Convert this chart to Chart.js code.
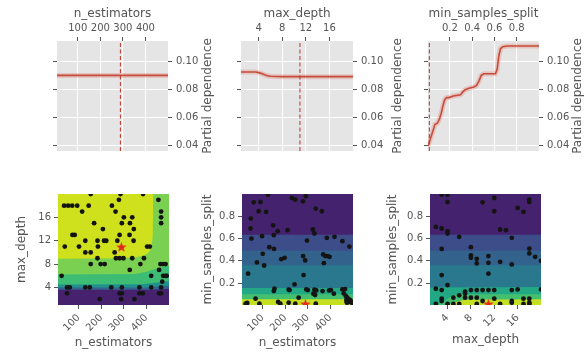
<!DOCTYPE html>
<html>
<head>
<meta charset="utf-8">
<script src="https://cdn.jsdelivr.net/npm/chart.js@4.4.1/dist/chart.umd.min.js"></script>
<style>
  html, body { margin: 0; padding: 0; background: #fff; }
  #wrap { position: relative; width: 587px; height: 353px; overflow: hidden; }
  #wrap canvas { position: absolute; left: 0; top: 0; }
</style>
</head>
<body>
<div id="wrap">
  <canvas id="pdNEst" width="587" height="353"></canvas>
  <canvas id="pdDepth" width="587" height="353"></canvas>
  <canvas id="pdSplit" width="587" height="353"></canvas>
  <canvas id="cNEstDepth" width="587" height="353"></canvas>
  <canvas id="cNEstSplit" width="587" height="353"></canvas>
  <canvas id="cDepthSplit" width="587" height="353"></canvas>
</div>
<script>
// ticks and ranges
const nEstTicks = [100, 200, 300, 400];
const depthTicks = [4, 8, 12, 16];
const splitTicks = [0.2, 0.4, 0.6, 0.8];
const pdTicks = [0.04, 0.06, 0.08, 0.10];

const nEstRange = [8, 500];
const depthRange = [1, 20];
const splitRange = [0.003, 1.0];
const pdRange = [0.0357, 0.115];

// best point found
const bestNEst = 289;
const bestDepth = 11;
const bestSplit = 0.015;

// partial dependence curves (top row)
const pdNEstX = [8, 100, 200, 300, 400, 500];
const pdNEstY = [0.0902, 0.0902, 0.0902, 0.0902, 0.0902, 0.0902];

const pdDepthX = [1, 2, 3, 3.5, 4, 4.5, 5, 5.5, 6, 7, 8, 10, 12, 14, 16, 18, 20];
const pdDepthY = [0.0927, 0.0927, 0.0927, 0.0926, 0.0922, 0.0915, 0.0906, 0.0899, 0.0896, 0.0894,
                  0.0893, 0.0893, 0.0893, 0.0893, 0.0893, 0.0893, 0.0893];

const pdSplitX = [0.003, 0.021, 0.042, 0.066, 0.087, 0.107, 0.122, 0.137, 0.152, 0.170, 0.191, 0.230,
                  0.296, 0.310, 0.334, 0.370, 0.415, 0.439, 0.460, 0.481, 0.504, 0.564, 0.609, 0.624,
                  0.639, 0.654, 0.675, 0.713, 1.0];
const pdSplitY = [0.0393, 0.0436, 0.0489, 0.0549, 0.0557, 0.0590, 0.0629, 0.0682, 0.0725, 0.0742, 0.0742, 0.0754,
                  0.0763, 0.0778, 0.0797, 0.0809, 0.0818, 0.0830, 0.0861, 0.0902, 0.0914, 0.0914, 0.0914, 0.0946,
                  0.1042, 0.1095, 0.1109, 0.1114, 0.1114];

// evaluated samples (bottom row)
const samplesNEstDepth = [
  [153,20],[285,20],[385,20],[278,19],[453,19],
  [35,18],[53,18],[71,18],[93,18],[144,18],[247,18],
  [115,17],[263,17],[465,17],
  [300,16],[337,16],[465,16],
  [168,15],[291,15],[327,15],[465,15],
  [207,14],[344,14],
  [72,13],[82,13],[281,13],[325,13],
  [129,12],[183,12],[212,12],[222,12],[271,12],[343,12],
  [38,11],[101,11],[185,11],[403,11],[415,11],
  [129,10],[153,10],[259,10],
  [265,9],[281,9],[298,9],[337,9],[183,9],[389,9],
  [153,8],[197,8],[215,8],[373,8],[462,8],[474,8],[485,8],
  [456,7],[326,7],
  [421,6],[24,6],[474,6],[485,6],[490,6],
  [48,4],[60,4],[129,4],[149,4],[244,4],[291,4],[369,4],[421,4],[465,4],[470,5],
  [48,3],[281,3],[291,3],[369,3],[384,3],[456,3],[465,3],
  [193,2],[288,2],[347,2]
];

const samplesNEstSplit = [
  [123,0.994],[229,0.964],[244,0.949],[278,0.934],[291,0.979],
  [60,0.925],[90,0.928],[82,0.845],[115,0.839],[335,0.869],[362,0.845],
  [47,0.779],[46,0.690],[146,0.719],[166,0.666],[210,0.675],[322,0.681],[329,0.645],
  [50,0.600],[97,0.621],[149,0.630],[296,0.582],[384,0.606],[418,0.615],[453,0.576],[484,0.528],
  [129,0.522],[150,0.507],[100,0.463],[182,0.415],[197,0.427],[279,0.442],[288,0.403],
  [368,0.457],[377,0.442],[387,0.442],[396,0.436],[74,0.385],[106,0.358],[371,0.379],
  [35,0.284],[281,0.272],[241,0.188],
  [152,0.149],[149,0.128],[215,0.140],[219,0.137],[293,0.143],[300,0.137],[329,0.140],[337,0.134],
  [324,0.105],[332,0.093],[365,0.128],[394,0.134],[402,0.137],[415,0.105],
  [453,0.143],[465,0.146],[459,0.107],[468,0.084],[472,0.054],[479,0.039],[471,0.039],[473,0.024],[494,0.024],
  [480,0.030],[485,0.050],[475,0.070],[490,0.040],
  [68,0.060],[259,0.069],[31,0.021],[24,0.015],[85,0.015],[168,0.030],[178,0.015],[215,0.024],[335,0.015],[244,0.015]
];

const samplesDepthSplit = [
  [3,0.994],[4,0.994],[4,0.928],[10,0.925],[12,0.964],[12,0.845],[16,0.875],[17,0.839],[18,0.949],[18,0.928],
  [2,0.704],[3,0.690],[4,0.666],[4,0.645],[6,0.615],[13,0.681],[14,0.675],
  [3,0.507],[8,0.522],[8,0.448],[8,0.427],[9,0.418],[9,0.376],[11,0.442],[11,0.382],[13,0.391],
  [15,0.606],[18,0.510],[18,0.466],[19,0.436],[20,0.400],
  [3,0.272],[4,0.182],[11,0.284],[15,0.367],
  [2,0.149],[3,0.137],[6,0.090],[7,0.105],[7,0.122],[8,0.137],[9,0.137],[10,0.137],[11,0.137],[12,0.137],
  [15,0.137],[16,0.143],[20,0.143],
  [5,0.069],[3,0.060],[3,0.039],[7,0.069],[8,0.069],[9,0.069],[10,0.039],[12,0.060],[15,0.039],
  [17,0.060],[18,0.060],[18,0.024],[15,0.024],
  [2,0.012],[4,0.012],[5,0.012],[6,0.012],[9,0.012],[13,0.012],[17,0.012],[18,0.012]
];

// contour levels (low objective = bright)
const colorsNEstDepth = ['#45216e', '#33638d', '#21918c', '#3dbc74', '#7ad151', '#cfe11c'];
const levelsNEstDepth = [
  [[8,3.6],[420,3.6],[460,3.7],[500,3.8]],
  [[8,4.0],[400,4.0],[450,4.15],[500,4.3]],
  [[8,4.5],[380,4.55],[430,4.75],[470,4.95],[500,5.1]],
  [[8,6.2],[350,6.3],[400,6.7],[440,7.2],[470,7.5],[500,7.7]],
  [[8,8.9],[280,9.0],[360,9.2],[395,9.6],[415,10.2],[424,11.2],[428,13],[430,20]]
];

const colorsSplit = ['#45226e', '#3d4d8a', '#33638d', '#2a788e', '#22a884', '#44bf70', '#c5e021'];
const levelsNEstSplit = [
  [[8,0.635],[500,0.635]],
  [[8,0.49],[500,0.49]],
  [[8,0.36],[500,0.36]],
  [[8,0.155],[500,0.155]],
  [[8,0.10],[500,0.10]],
  [[8,0.055],[500,0.055]]
];
const levelsDepthSplit = [
  [[1,0.635],[20,0.635]],
  [[1,0.49],[20,0.49]],
  [[1,0.36],[20,0.36]],
  [[1,0.16],[20,0.165]],
  [[1,0.0],[3,0.02],[4,0.06],[5,0.09],[6,0.10],[20,0.10]],
  [[4,0.0],[5,0.02],[6,0.04],[7,0.05],[20,0.055]]
];

const TXT = '#555555';
Chart.defaults.font.family = "'DejaVu Sans', sans-serif";
Chart.defaults.color = TXT;
Chart.defaults.animation = false;

function fixTicks(list) {
  return function (s) { s.ticks = list.map(v => ({ value: v })); };
}
function pairs(xs, ys) {
  return xs.map((x, i) => ({ x: x, y: ys[i] }));
}

const panelBg = {
  id: 'panelBg',
  beforeDraw(chart) {
    const a = chart.chartArea, ctx = chart.ctx;
    ctx.save();
    ctx.fillStyle = '#e5e5e5';
    ctx.fillRect(a.left, a.top, a.right - a.left, a.bottom - a.top);
    ctx.restore();
  }
};

// matplotlib style ylabel on the right, reading bottom to top
const sideLabel = {
  id: 'sideLabel',
  afterDraw(chart, args, o) {
    if (!o.text) return;
    const a = chart.chartArea, ctx = chart.ctx;
    ctx.save();
    ctx.translate(a.right + o.offset, (a.top + a.bottom) / 2);
    ctx.rotate(-Math.PI / 2);
    ctx.font = "12px 'DejaVu Sans'";
    ctx.fillStyle = TXT;
    ctx.textAlign = 'center';
    ctx.textBaseline = 'middle';
    ctx.fillText(o.text, 0, 0);
    ctx.restore();
  }
};

// filled contour regions, drawn through the chart scales
const contour = {
  id: 'contour',
  beforeDatasetsDraw(chart, args, o) {
    if (!o.regions) return;
    const a = chart.chartArea, ctx = chart.ctx;
    const x = chart.scales.x, y = chart.scales.y;
    ctx.save();
    ctx.beginPath();
    ctx.rect(a.left, a.top, a.right - a.left, a.bottom - a.top);
    ctx.clip();
    o.regions.forEach(r => {
      ctx.beginPath();
      r.poly.forEach((p, i) => {
        const px = x.getPixelForValue(p[0]), py = y.getPixelForValue(p[1]);
        if (i === 0) ctx.moveTo(px, py); else ctx.lineTo(px, py);
      });
      ctx.closePath();
      ctx.fillStyle = r.color;
      ctx.fill();
    });
    ctx.restore();
  }
};

function makeStar(size, color) {
  const c = document.createElement('canvas');
  c.width = size; c.height = size;
  const g = c.getContext('2d');
  const R = size / 2, r = R * 0.42;
  g.beginPath();
  for (let i = 0; i < 10; i++) {
    const rad = i % 2 ? r : R;
    const ang = -Math.PI / 2 + i * Math.PI / 5;
    const px = R + rad * Math.cos(ang), py = R + 0.8 + rad * Math.sin(ang);
    if (i === 0) g.moveTo(px, py); else g.lineTo(px, py);
  }
  g.closePath();
  g.fillStyle = color;
  g.fill();
  return c;
}
const starImg = makeStar(11, '#e3281c');

function rangeRect(xr, yr) {
  return [[xr[0], yr[0]], [xr[1], yr[0]], [xr[1], yr[1]], [xr[0], yr[1]]];
}
function regionsAbove(levels, colors, xr, yr) {
  const out = [{ poly: rangeRect(xr, yr), color: colors[0] }];
  levels.forEach((l, i) => out.push({ poly: l.concat([[xr[1], yr[1]], [xr[0], yr[1]]]), color: colors[i + 1] }));
  return out;
}
function regionsBelow(levels, colors, xr, yr) {
  const out = [{ poly: rangeRect(xr, yr), color: colors[0] }];
  levels.forEach((l, i) => out.push({ poly: l.concat([[xr[1], yr[0] - 1], [xr[0], yr[0] - 1]]), color: colors[i + 1] }));
  return out;
}

const tickFont = { size: 10 };
const labelFont = { size: 12 };

function topChart(id, o) {
  const curve = pairs(o.xs, o.ys);
  const top = 41, bottom = 151, xh = 34, yw = 30, lw = 12;
  new Chart(document.getElementById(id), {
    type: 'scatter',
    data: {
      datasets: [
        { data: [{ x: o.best, y: pdRange[0] }, { x: o.best, y: pdRange[1] }], showLine: true,
          borderColor: '#b8342b', borderWidth: 1, borderDash: [4, 2.5], pointRadius: 0, clip: 0, order: 0 },
        { data: curve, showLine: true, borderColor: '#c44d3d', borderWidth: 1.6, pointRadius: 0, clip: 0, order: 1 },
        { data: curve, showLine: true, borderColor: 'rgba(226,74,51,0.22)', borderWidth: 5, pointRadius: 0, clip: 0, order: 2 }
      ]
    },
    options: {
      responsive: false,
      layout: { padding: { left: o.left - lw, top: top - xh, right: 587 - o.right - yw, bottom: 353 - bottom } },
      scales: {
        x: {
          type: 'linear', position: 'top', min: o.range[0], max: o.range[1],
          afterBuildTicks: fixTicks(o.ticks),
          afterFit: s => { s.height = xh; },
          ticks: { font: tickFont, color: TXT, padding: 3, maxRotation: 0, autoSkip: false, callback: o.fmt },
          grid: { color: '#ffffff', lineWidth: 1, tickColor: TXT, tickLength: 4 },
          border: { display: false },
          title: { display: true, text: o.title, color: TXT, font: labelFont, padding: { top: 0, bottom: 0 } }
        },
        y: {
          type: 'linear', position: 'right', min: pdRange[0], max: pdRange[1],
          afterBuildTicks: fixTicks(pdTicks),
          afterFit: s => { s.width = yw; },
          ticks: { font: tickFont, color: TXT, padding: 4, callback: v => v.toFixed(2) },
          grid: { color: '#ffffff', lineWidth: 1, tickColor: TXT, tickLength: 4 },
          border: { display: false }
        },
        yLeft: {
          type: 'linear', position: 'left', min: pdRange[0], max: pdRange[1],
          afterBuildTicks: fixTicks(pdTicks),
          afterFit: s => { s.width = lw; },
          ticks: { font: tickFont, padding: 0, callback: () => '' },
          grid: { drawOnChartArea: false, tickColor: TXT, tickLength: 4 },
          border: { display: false }
        }
      },
      plugins: {
        legend: { display: false },
        tooltip: { enabled: false },
        sideLabel: { text: 'Partial dependence', offset: o.labelOffset }
      }
    },
    plugins: [panelBg, sideLabel]
  });
}

function bottomChart(id, o) {
  const top = 194, bottom = 305;
  new Chart(document.getElementById(id), {
    type: 'scatter',
    data: {
      datasets: [
        { data: [{ x: o.best[0], y: o.best[1] }], pointStyle: starImg, pointRadius: 6, clip: 0, order: 0 },
        { data: o.points.map(p => ({ x: p[0], y: p[1] })), pointRadius: 2.4, pointBorderWidth: 0,
          backgroundColor: '#141414', clip: 0, order: 1 }
      ]
    },
    options: {
      responsive: false,
      layout: { padding: { left: o.left - o.yw, top: top, right: 587 - o.right, bottom: 353 - bottom - o.xh } },
      scales: {
        x: {
          type: 'linear', position: 'bottom', min: o.xRange[0], max: o.xRange[1],
          afterBuildTicks: fixTicks(o.xTicks),
          afterFit: s => { s.height = o.xh; },
          ticks: { font: tickFont, color: TXT, padding: 3, minRotation: 45, maxRotation: 45, autoSkip: false, callback: o.xFmt },
          grid: { drawOnChartArea: false, tickColor: TXT, tickLength: 4 },
          border: { display: false },
          title: { display: true, text: o.xTitle, color: TXT, font: labelFont, padding: { top: 0, bottom: 0 } }
        },
        y: {
          type: 'linear', position: 'left', min: o.yRange[0], max: o.yRange[1],
          afterBuildTicks: fixTicks(o.yTicks),
          afterFit: s => { s.width = o.yw; },
          ticks: { font: tickFont, color: TXT, padding: 3, autoSkip: false, callback: o.yFmt },
          grid: { drawOnChartArea: false, tickColor: TXT, tickLength: 4 },
          border: { display: false },
          title: { display: true, text: o.yTitle, color: TXT, font: labelFont, padding: { top: 0, bottom: 0 } }
        }
      },
      plugins: {
        legend: { display: false },
        tooltip: { enabled: false },
        contour: { regions: o.regions }
      }
    },
    plugins: [contour]
  });
}

const fmtInt = v => String(Math.round(v));
const fmt1 = v => v.toFixed(1);

topChart('pdNEst', { left: 57, right: 168, range: nEstRange, ticks: nEstTicks, fmt: fmtInt,
  title: 'n_estimators', xs: pdNEstX, ys: pdNEstY, best: bestNEst, labelOffset: 40 });
topChart('pdDepth', { left: 241, right: 353, range: depthRange, ticks: depthTicks, fmt: fmtInt,
  title: 'max_depth', xs: pdDepthX, ys: pdDepthY, best: bestDepth, labelOffset: 45 });
topChart('pdSplit', { left: 428, right: 539, range: splitRange, ticks: splitTicks, fmt: fmt1,
  title: 'min_samples_split', xs: pdSplitX, ys: pdSplitY, best: bestSplit, labelOffset: 39 });

bottomChart('cNEstDepth', { left: 58, right: 169, yw: 43, xh: 45,
  xRange: nEstRange, yRange: depthRange, xTicks: nEstTicks, yTicks: depthTicks, xFmt: fmtInt, yFmt: fmtInt,
  xTitle: 'n_estimators', yTitle: 'max_depth', points: samplesNEstDepth, best: [bestNEst, bestDepth],
  regions: regionsAbove(levelsNEstDepth, colorsNEstDepth, nEstRange, depthRange) });
bottomChart('cNEstSplit', { left: 242, right: 353, yw: 41, xh: 45,
  xRange: nEstRange, yRange: splitRange, xTicks: nEstTicks, yTicks: splitTicks, xFmt: fmtInt, yFmt: fmt1,
  xTitle: 'n_estimators', yTitle: 'min_samples_split', points: samplesNEstSplit, best: [bestNEst, bestSplit],
  regions: regionsBelow(levelsNEstSplit, colorsSplit, nEstRange, splitRange) });
bottomChart('cDepthSplit', { left: 430, right: 541, yw: 44, xh: 42,
  xRange: depthRange, yRange: splitRange, xTicks: depthTicks, yTicks: splitTicks, xFmt: fmtInt, yFmt: fmt1,
  xTitle: 'max_depth', yTitle: 'min_samples_split', points: samplesDepthSplit, best: [bestDepth, bestSplit],
  regions: regionsBelow(levelsDepthSplit, colorsSplit, depthRange, splitRange) });
</script>
</body>
</html>
